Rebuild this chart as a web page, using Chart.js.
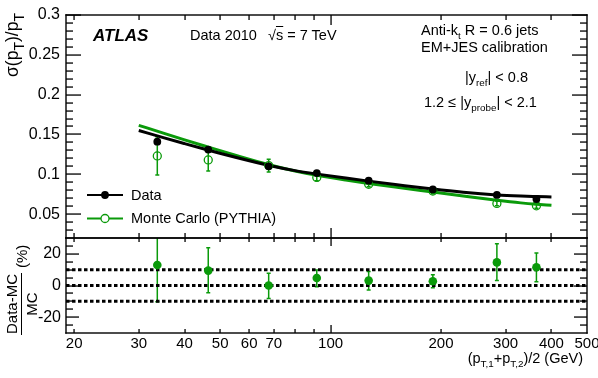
<!DOCTYPE html>
<html><head><meta charset="utf-8">
<script src="https://cdn.jsdelivr.net/npm/chart.js@4/dist/chart.umd.min.js"></script>
<style>
html,body{margin:0;padding:0;background:#fff;}
#wrap{position:relative;width:598px;height:378px;overflow:hidden;font-family:"Liberation Sans",Arial,Helvetica,sans-serif;color:#000;background:#fff;}
canvas{position:absolute;left:0;top:0;}
.t{position:absolute;white-space:nowrap;font-size:14.5px;line-height:1;}
.t sub{font-size:68%;vertical-align:-0.4em;line-height:0;}
.yt sub{font-size:80%;}
</style></head>
<body><div id="wrap">
<canvas id="c1" width="598" height="378"></canvas>
<canvas id="c2" width="598" height="378"></canvas>
<canvas id="c3" width="598" height="378" style="width:598px;height:378px;"></canvas>

<div class="t" style="left:93px;top:27px;font-size:17px;font-weight:bold;font-style:italic;">ATLAS</div>
<div class="t" style="left:190px;top:28px;">Data 2010</div>
<div class="t" style="left:268px;top:28px;">√<span style="text-decoration:overline">s</span> = 7 TeV</div>
<div class="t" style="left:421px;top:23px;">Anti-k<sub>t</sub> R = 0.6 jets</div>
<div class="t" style="left:421px;top:40px;">EM+JES calibration</div>
<div class="t" style="left:465px;top:70px;">|y<sub>ref</sub>| &lt; 0.8</div>
<div class="t" style="left:424px;top:95px;">1.2 ≤ |y<sub>probe</sub>| &lt; 2.1</div>
<div class="t" style="left:131px;top:188px;">Data</div>
<div class="t" style="left:131px;top:211px;">Monte Carlo (PYTHIA)</div>
<div class="t" style="right:15px;top:351px;">(p<sub>T,1</sub>+p<sub>T,2</sub>)/2 (GeV)</div>
<div class="t yt" style="left:4px;top:213px;width:200px;text-align:right;transform:rotate(-90deg);transform-origin:left top;font-size:17.5px;">σ(p<sub>T</sub>)/p<sub>T</sub></div>
<div class="t" style="left:4px;top:335px;transform:rotate(-90deg);transform-origin:left top;font-size:15px;display:flex;align-items:center;">
 <span style="display:inline-flex;flex-direction:column;align-items:center;"><span style="border-bottom:1.5px solid #000;padding:0 1px 2px;">Data-MC</span><span style="padding-top:2px">MC</span></span><span style="margin-left:5px">(%)</span></div>
</div>
<script>
// ---- data ----
const ptBins   = [33.7, 46.4, 67.8, 91.7, 127, 190, 284, 364];
const dataRes  = [0.141, 0.131, 0.110, 0.1015, 0.092, 0.081, 0.0741, 0.069];
const dataErr  = [0.004, 0.003, 0.002, 0.002, 0.002, 0.002, 0.002, 0.002];
const mcRes    = [0.123, 0.118, 0.111, 0.096, 0.0875, 0.079, 0.0634, 0.0604];
const mcErr    = [0.024, 0.014, 0.008, 0.004, 0.003, 0.003, 0.003, 0.003];
const fitX     = [30, 35, 40, 46, 55, 68, 80, 92, 110, 127, 150, 190, 230, 284, 330, 364, 400];
const fitData  = [0.155, 0.146, 0.1385, 0.1308, 0.1213, 0.111, 0.1046, 0.1002, 0.0952, 0.0914, 0.0872, 0.0814, 0.0774, 0.0741, 0.0727, 0.0721, 0.0716];
const fitMC    = [0.1615, 0.1516, 0.1432, 0.1347, 0.1240, 0.1120, 0.1042, 0.0987, 0.0928, 0.0885, 0.0839, 0.0777, 0.0727, 0.0674, 0.0641, 0.0624, 0.0611];
const ratio     = [12.9, 9.4, 0.0, 4.7, 3.1, 2.7, 14.6, 11.5];
const ratioLow  = [-10.3, -4.5, -8.2, -0.8, -2.9, -1.4, 3.1, 2.3];
const ratioHigh = [36, 23.8, 7.8, 9.8, 8.8, 6.8, 26.3, 20.5];
const refLines  = [-10, 0, 10];
const xTickLabels = [20, 30, 40, 50, 60, 70, 100, 200, 300, 400, 500];
const yTicksTop   = [0.05, 0.1, 0.15, 0.2, 0.25, 0.3];
const yTicksBot   = [-20, 0, 20];

const X_MIN = 19, X_MAX = 500;
const FONT = '"Liberation Sans", Arial, Helvetica, sans-serif';
const GREEN = '#0a9a0a';

const xMinorTicks = [20, 30, 40, 50, 60, 70, 80, 90, 200, 300, 400];
const xMajorTicks = [100];
const yMinorTop = [];
for (let k = 3; k <= 29; k++) { if (k % 5 !== 0) yMinorTop.push(k / 100); }
const yMinorBot = [-25, -15, -10, -5, 5, 10, 15, 25];

function drawFrame(ctx, chart, cfg) {
  const a = chart.chartArea;
  const xs = chart.scales.x, ys = chart.scales.y;
  const T = 1.4;
  ctx.save();
  ctx.fillStyle = '#000';
  ctx.fillRect(a.left - T / 2, a.top - T / 2, a.right - a.left + T, T);
  ctx.fillRect(a.left - T / 2, a.bottom - T / 2, a.right - a.left + T, T);
  ctx.fillRect(a.left - T / 2, a.top - T / 2, T, a.bottom - a.top + T);
  ctx.fillRect(a.right - T / 2, a.top - T / 2, T, a.bottom - a.top + T);
  const yTick = (v, len) => {
    const p = Math.round(ys.getPixelForValue(v));
    ctx.fillRect(a.left, p - 0.6, len, 1.3);
    ctx.fillRect(a.right - len, p - 0.6, len, 1.3);
  };
  const xTick = (v, len) => {
    const p = Math.round(xs.getPixelForValue(v));
    ctx.fillRect(p - 0.6, a.bottom - len, 1.3, len);
    ctx.fillRect(p - 0.6, a.top, 1.3, len);
  };
  for (const v of cfg.yMajor) yTick(v, cfg.yMajLen);
  for (const v of cfg.yMinor) yTick(v, cfg.yMinLen);
  for (const v of xMajorTicks) xTick(v, cfg.xMajLen);
  for (const v of xMinorTicks) xTick(v, cfg.xMinLen);
  ctx.restore();
}

function drawErrors(chart, sets) {
  const ctx = chart.ctx, a = chart.chartArea;
  const xs = chart.scales.x, ys = chart.scales.y;
  ctx.save();
  ctx.beginPath(); ctx.rect(a.left, a.top, a.right - a.left, a.bottom - a.top); ctx.clip();
  for (const s of sets) {
    ctx.strokeStyle = s.color; ctx.lineWidth = s.width;
    ctx.beginPath();
    s.xv.forEach((xv, i) => {
      const px = xs.getPixelForValue(xv);
      const p1 = ys.getPixelForValue(s.lo[i]), p2 = ys.getPixelForValue(s.hi[i]);
      ctx.moveTo(px, p1); ctx.lineTo(px, p2);
      if (s.cap) {
        ctx.moveTo(px - s.cap, p1); ctx.lineTo(px + s.cap, p1);
        ctx.moveTo(px - s.cap, p2); ctx.lineTo(px + s.cap, p2);
      }
    });
    ctx.stroke();
  }
  ctx.restore();
}

function drawLegend(chart) {
  const ctx = chart.ctx;
  ctx.save();
  ctx.lineWidth = 2;
  ctx.strokeStyle = '#000';
  ctx.beginPath(); ctx.moveTo(87, 195); ctx.lineTo(123, 195); ctx.stroke();
  ctx.fillStyle = '#000';
  ctx.beginPath(); ctx.arc(105, 195, 3.9, 0, Math.PI * 2); ctx.fill();
  ctx.strokeStyle = GREEN;
  ctx.beginPath(); ctx.moveTo(87, 218.5); ctx.lineTo(123, 218.5); ctx.stroke();
  ctx.fillStyle = '#fff'; ctx.lineWidth = 1.3;
  ctx.beginPath(); ctx.arc(105, 218.5, 4, 0, Math.PI * 2); ctx.fill(); ctx.stroke();
  ctx.restore();
}

function fixAxis(w, h) {
  return s => {
    if (w !== null) s.width = w;
    if (h !== null) s.height = h;
    s.paddingLeft = 0; s.paddingRight = 0; s.paddingTop = 0; s.paddingBottom = 0;
  };
}

const pts = (xs, ys) => xs.map((x, i) => ({x: x, y: ys[i]}));

const upperErr = [
  {xv: ptBins, lo: mcRes.map((v, i) => v - mcErr[i]), hi: mcRes.map((v, i) => v + mcErr[i]), color: GREEN, width: 1.5, cap: 2},
  {xv: ptBins, lo: dataRes.map((v, i) => v - dataErr[i]), hi: dataRes.map((v, i) => v + dataErr[i]), color: '#000', width: 1.5, cap: 0}
];
const upperFrame = {yMajor: yTicksTop, yMinor: yMinorTop, yMajLen: 15, yMinLen: 7, xMajLen: 10, xMinLen: 5};
const lowerErr = [{xv: ptBins, lo: ratioLow, hi: ratioHigh, color: GREEN, width: 1.5, cap: 2}];
const lowerFrame = {yMajor: yTicksBot, yMinor: yMinorBot, yMajLen: 13, yMinLen: 7, xMajLen: 8, xMinLen: 4};

const chartTop = new Chart(document.getElementById('c1'), {
  type: 'line',
  data: {
    datasets: [
      {label: 'Data', data: pts(ptBins, dataRes), showLine: false, pointRadius: 3.9, pointBackgroundColor: '#000', pointBorderColor: '#000', pointBorderWidth: 0, order: 0},
      {label: 'Monte Carlo (PYTHIA)', data: pts(ptBins, mcRes), showLine: false, pointRadius: 4, pointBackgroundColor: 'rgba(0,0,0,0)', pointBorderColor: GREEN, pointBorderWidth: 1.3, order: 1},
      {label: 'fit data', data: pts(fitX, fitData), borderColor: '#000', borderWidth: 3, pointRadius: 0, tension: 0.4, cubicInterpolationMode: 'monotone', order: 2},
      {label: 'fit MC', data: pts(fitX, fitMC), borderColor: GREEN, borderWidth: 3, pointRadius: 0, tension: 0.4, cubicInterpolationMode: 'monotone', order: 3}
    ]
  },
  options: {
    responsive: false, animation: false,
    layout: {padding: {left: 0, right: 11, top: 15, bottom: 140}},
    plugins: {legend: {display: false}, tooltip: {enabled: false}},
    scales: {
      x: {type: 'logarithmic', min: X_MIN, max: X_MAX, display: false},
      y: {
        type: 'linear', min: 0.02, max: 0.3,
        afterBuildTicks: s => { s.ticks = yTicksTop.map(v => ({value: v})); },
        afterFit: fixAxis(66, null),
        grid: {display: false, drawTicks: false}, border: {display: false},
        ticks: {color: '#000', font: {family: FONT, size: 16}, padding: 6, callback: v => String(v)}
      }
    }
  },
  plugins: [{
    id: 'upperDecor',
    beforeDatasetsDraw(chart) { drawErrors(chart, upperErr); },
    afterDraw(chart) { drawLegend(chart); }
  }]
});

const refSets = refLines.map(v => ({
  data: [{x: X_MIN, y: v}, {x: X_MAX, y: v}], borderColor: '#000', borderWidth: 3, borderDash: [3.5, 2.5], pointRadius: 0, order: 2
}));
const chartBot = new Chart(document.getElementById('c2'), {
  type: 'line',
  data: {
    datasets: [
      {label: 'ratio', data: pts(ptBins, ratio), showLine: false, pointRadius: 4.3, pointBackgroundColor: GREEN, pointBorderColor: GREEN, pointBorderWidth: 0, order: 0},
      ...refSets
    ]
  },
  options: {
    responsive: false, animation: false,
    layout: {padding: {left: 0, right: 11, top: 238, bottom: 0}},
    plugins: {legend: {display: false}, tooltip: {enabled: false}},
    scales: {
      x: {
        type: 'logarithmic', min: X_MIN, max: X_MAX,
        afterBuildTicks: s => { s.ticks = xTickLabels.map(v => ({value: v})); },
        afterFit: fixAxis(null, 45),
        grid: {display: false, drawTicks: false}, border: {display: false},
        ticks: {color: '#000', font: {family: FONT, size: 15}, padding: 2, autoSkip: false, maxRotation: 0, minRotation: 0, callback: v => String(v)}
      },
      y: {
        type: 'linear', min: -30, max: 30,
        afterBuildTicks: s => { s.ticks = yTicksBot.map(v => ({value: v})); },
        afterFit: fixAxis(66, null),
        grid: {display: false, drawTicks: false}, border: {display: false},
        ticks: {color: '#000', font: {family: FONT, size: 16}, padding: 5, callback: v => String(v)}
      }
    }
  },
  plugins: [{
    id: 'lowerDecor',
    beforeDatasetsDraw(chart) { drawErrors(chart, lowerErr); }
  }]
});

// frames and inward ticks on a top overlay, positioned with each chart's own scales
const overlay = document.getElementById('c3').getContext('2d');
drawFrame(overlay, chartTop, upperFrame);
drawFrame(overlay, chartBot, lowerFrame);
</script>
</body></html>
